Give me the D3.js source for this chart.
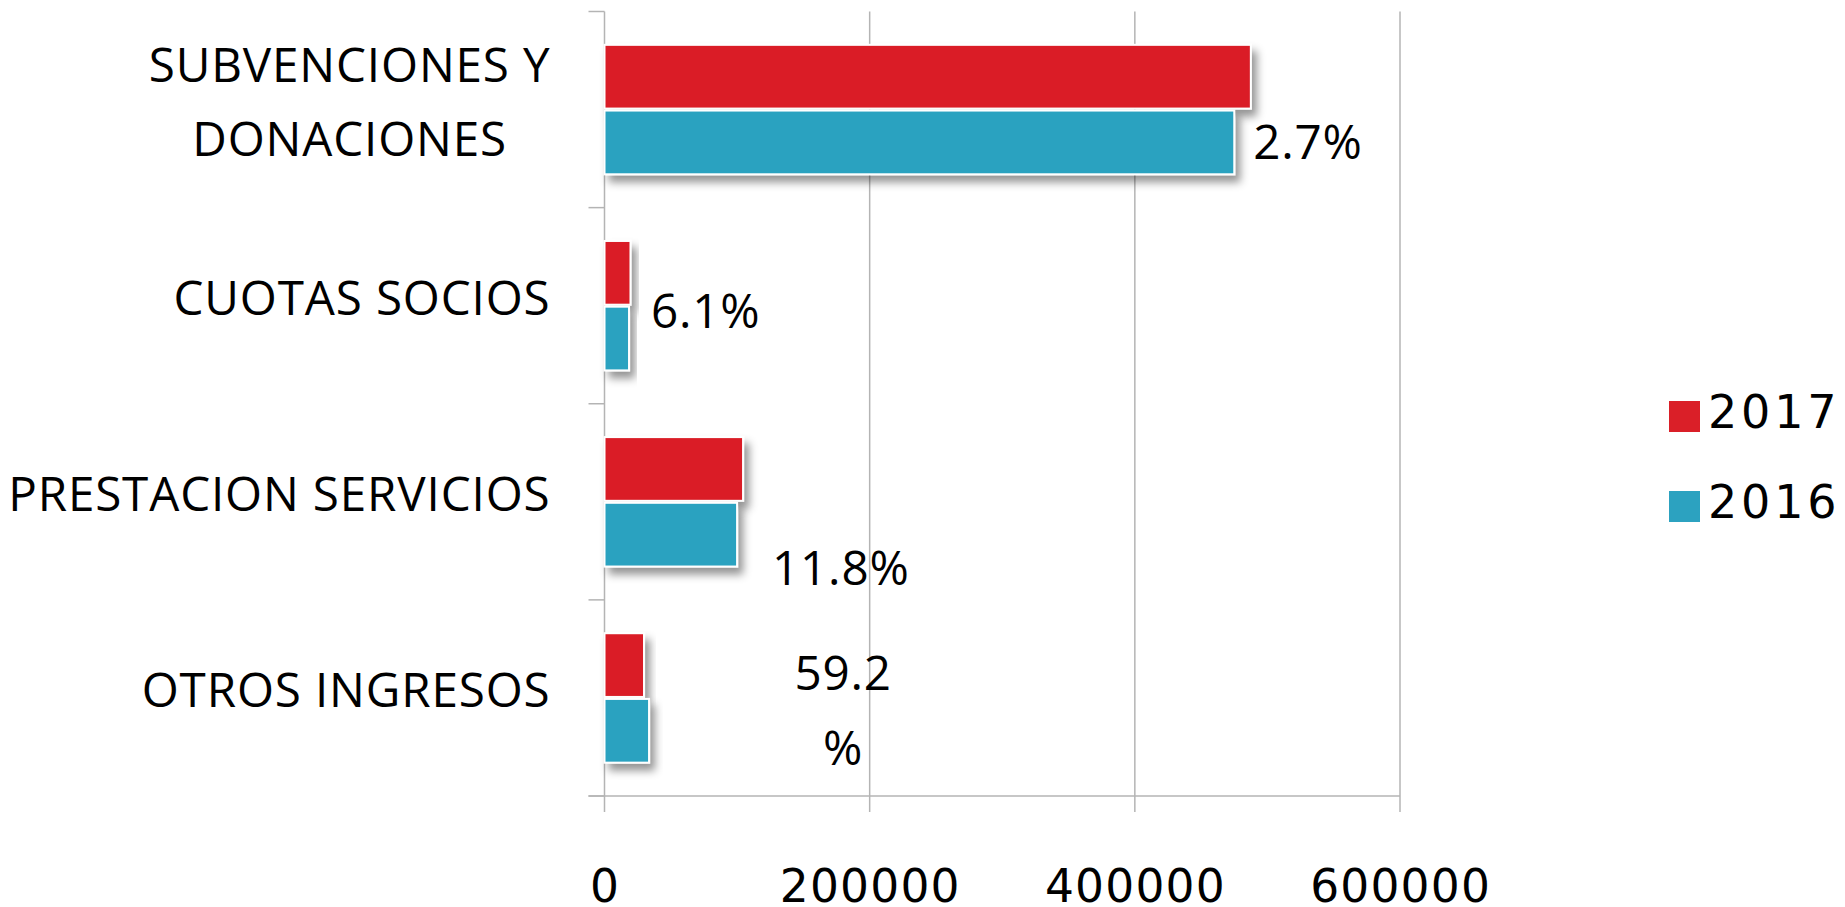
<!DOCTYPE html>
<html>
<head>
<meta charset="utf-8">
<script src="https://cdn.jsdelivr.net/npm/d3@7"></script>
<style>
  html, body { margin: 0; padding: 0; background: #fff; }
  svg { display: block; }
</style>
</head>
<body>
<svg id="chart" width="1845" height="907"></svg>
<script>
// ---- DATA ----
const categories = ["SUBVENCIONES Y DONACIONES", "CUOTAS SOCIOS", "PRESTACION SERVICIOS", "OTROS INGRESOS"];
const categoryLines = [["SUBVENCIONES Y", "DONACIONES"], ["CUOTAS SOCIOS"], ["PRESTACION SERVICIOS"], ["OTROS INGRESOS"]];
const seriesNames = ["2017", "2016"];
const values2017 = [487500, 19600, 104500, 29800];
const values2016 = [475000, 18500, 100000, 33600];
const pctLabels = [["2.7%"], ["6.1%"], ["11.8%"], ["59.2", "%"]];
const xTicks = [0, 200000, 400000, 600000];

// ---- LAYOUT ----
const colors = { "2017": "#DA1F28", "2016": "#2CA2C0" };
const gridColor = "#b4b4b4";
const svg = d3.select("#chart");

const x = d3.scaleLinear().domain([0, 600000]).range([604.5, 1400]);
const y = d3.scaleBand().domain(categories).range([11.5, 796]).paddingInner(0.34).paddingOuter(0.17);
const ySub = d3.scaleBand().domain(seriesNames).range([0, y.bandwidth()]).paddingInner(0.03);
const step = y.step();

// drop shadow
const defs = svg.append("defs");
const f = defs.append("filter").attr("id", "shadow").attr("x", "-20%").attr("y", "-30%").attr("width", "150%").attr("height", "180%");
f.append("feDropShadow").attr("dx", 5).attr("dy", 7).attr("stdDeviation", 4)
  .attr("flood-color", "#000").attr("flood-opacity", 0.42);

// gridlines (vertical), extending below as ticks
const xAxisY = y.range()[1];
svg.append("g").selectAll("line").data(xTicks).join("line")
  .attr("x1", d => x(d)).attr("x2", d => x(d))
  .attr("y1", y.range()[0]).attr("y2", xAxisY + 16)
  .attr("stroke", gridColor).attr("stroke-width", 1.5);

// horizontal axis line
svg.append("line").attr("x1", x(0) - 16).attr("x2", x(600000))
  .attr("y1", xAxisY).attr("y2", xAxisY).attr("stroke", gridColor).attr("stroke-width", 1.5);

// category tick marks at band edges
const edges = d3.range(categories.length + 1).map(i => y.range()[0] + i * step);
svg.append("g").selectAll("line").data(edges).join("line")
  .attr("x1", x(0) - 16).attr("x2", x(0))
  .attr("y1", d => d).attr("y2", d => d)
  .attr("stroke", gridColor).attr("stroke-width", 1.5);

// bars
const rows = categories.map((c, i) => ({ cat: c, i, vals: { "2017": values2017[i], "2016": values2016[i] } }));
const gBars = svg.append("g");
rows.forEach(r => {
  seriesNames.forEach(s => {
    gBars.append("rect")
      .attr("x", x(0))
      .attr("y", y(r.cat) + ySub(s))
      .attr("width", x(r.vals[s]) - x(0))
      .attr("height", ySub.bandwidth())
      .attr("fill", colors[s])
      .attr("stroke", "#fff").attr("stroke-width", 2)
      .attr("filter", "url(#shadow)");
  });
});

// x tick labels
svg.append("g").selectAll("text").data(xTicks).join("text")
  .attr("x", d => x(d) + 0.6).attr("y", 902)
  .attr("text-anchor", "middle")
  .attr("font-family", "DejaVu Sans").attr("font-size", 45.5).attr("letter-spacing", 1.2).attr("fill", "#000")
  .text(d => d3.format("d")(d));

// category labels
const labelRight = 550.5;
const catFont = { family: "Open Sans", size: 47.6, spacing: 0.85 };
rows.forEach(r => {
  const lines = categoryLines[r.i];
  const cy = y(r.cat) + y.bandwidth() / 2 - 0.5;
  const g = svg.append("g");
  const lineGap = 74;
  const texts = lines.map((ln, k) => g.append("text")
    .attr("font-family", catFont.family).attr("font-size", catFont.size)
    .attr("letter-spacing", catFont.spacing).attr("fill", "#000")
    .attr("y", cy + 10 + (k - (lines.length - 1) / 2) * lineGap)
    .text(ln));
  if (lines.length === 1) {
    texts[0].attr("x", labelRight).attr("text-anchor", "end");
  } else {
    const maxW = d3.max(texts, t => t.node().getComputedTextLength());
    texts.forEach(t => t.attr("x", labelRight - maxW / 2).attr("text-anchor", "middle"));
  }
});

// percentage labels (positioned relative to the 2016 bar end)
const pctOffsets = [[19, 0], [22, -28], [35, 33], [0, 0]];
rows.forEach(r => {
  const lines = pctLabels[r.i];
  const blueMid = y(r.cat) + ySub("2016") + ySub.bandwidth() / 2;
  if (lines.length === 1) {
    svg.append("text")
      .attr("x", x(r.vals["2016"]) + pctOffsets[r.i][0])
      .attr("y", blueMid + 17 + pctOffsets[r.i][1])
      .attr("font-family", "Open Sans").attr("font-size", 47.6).attr("letter-spacing", 0.8).attr("fill", "#000")
      .text(lines[0]);
  } else {
    const cx = x(180000);
    lines.forEach((ln, k) => {
      svg.append("text")
        .attr("x", cx).attr("y", y(r.cat) + 57 + k * 75)
        .attr("text-anchor", "middle")
        .attr("font-family", "Open Sans").attr("font-size", 47.6).attr("letter-spacing", 0.8).attr("fill", "#000")
        .text(ln);
    });
  }
});

// legend
const legend = svg.append("g").attr("transform", "translate(1669,401)");
seriesNames.forEach((s, k) => {
  const g = legend.append("g").attr("transform", `translate(0,${k * 90})`);
  g.append("rect").attr("width", 31).attr("height", 31).attr("fill", colors[s]);
  g.append("text").attr("x", 39).attr("y", 27)
    .attr("font-family", "DejaVu Sans").attr("font-size", 46).attr("letter-spacing", 3.8).attr("fill", "#000")
    .text(s);
});
</script>
</body>
</html>
